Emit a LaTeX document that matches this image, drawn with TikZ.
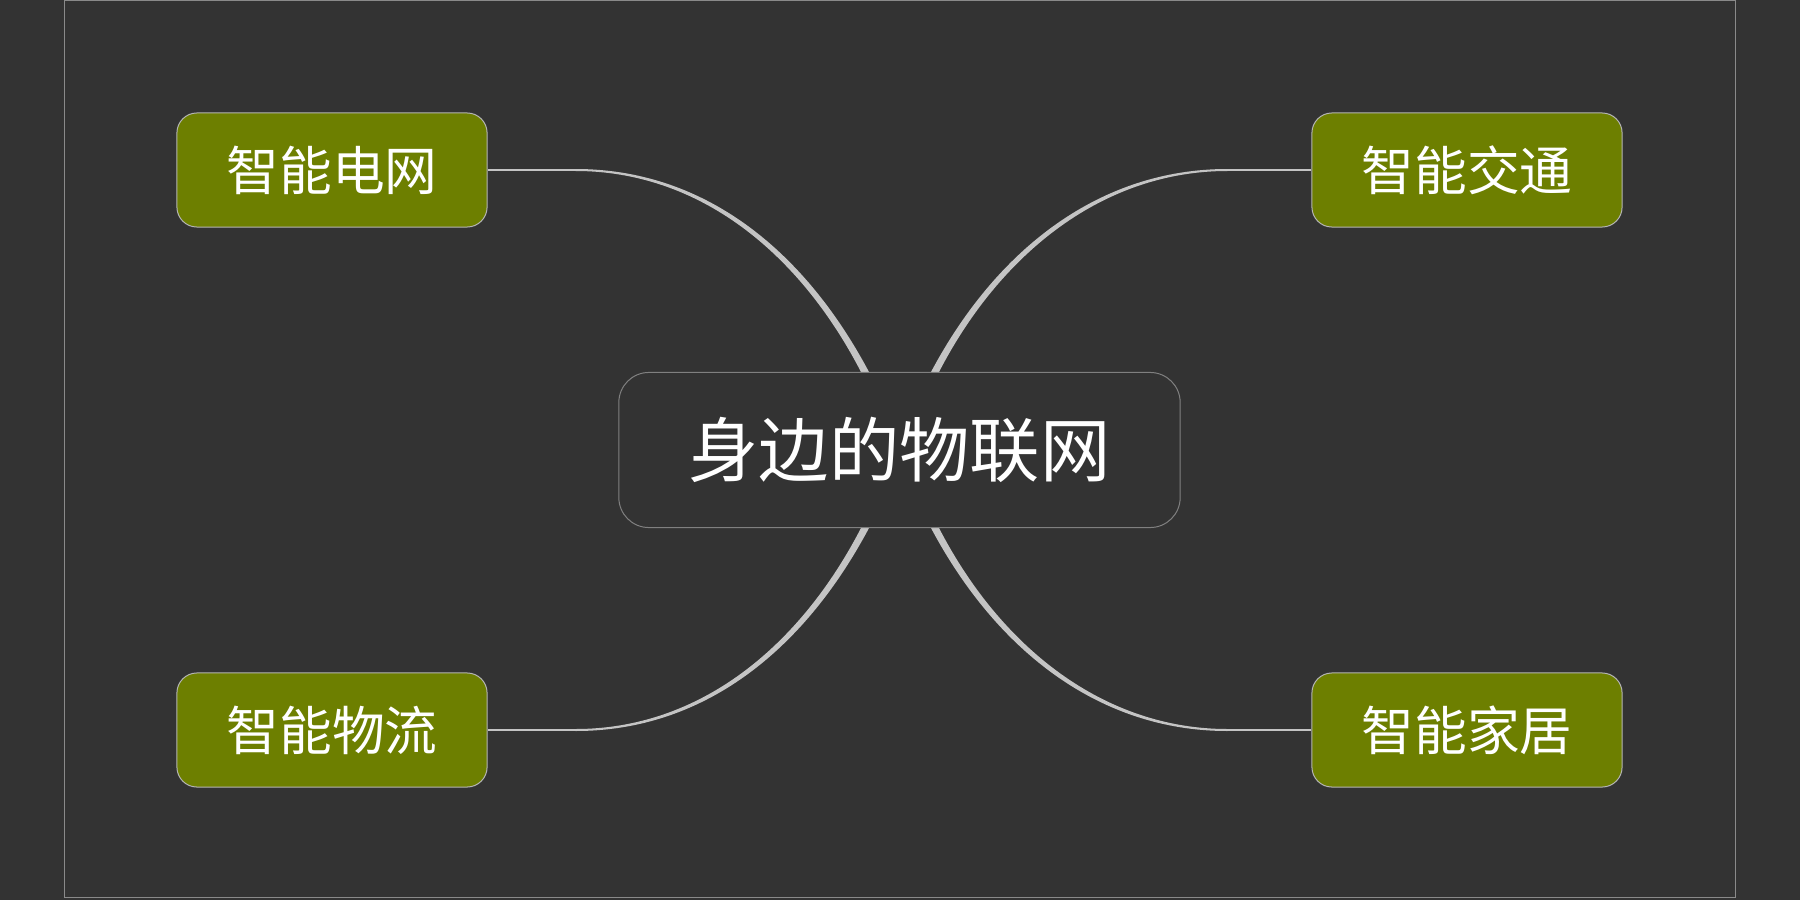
\documentclass[tikz,border=0pt]{standalone}
\usepackage{fontspec}
\newfontfamily\cjk{Noto Sans CJK SC}
\usetikzlibrary{calc}

\definecolor{bgdark}{HTML}{333333}
\definecolor{leafolive}{HTML}{6D7F00}
\definecolor{leafrim}{HTML}{B4B4B4}
\definecolor{hubrim}{HTML}{808080}
\definecolor{branchgray}{HTML}{C4C4C4}
\definecolor{framegray}{HTML}{8A8A8A}

\begin{document}
\begin{tikzpicture}[
    x=0.01cm, y=-0.01cm,
    % Define styles
    leaf/.style={rectangle, draw=leafrim, line width=0.01cm, fill=leafolive, rounded corners=0.2cm,
        minimum width=3.1cm, minimum height=1.14cm, inner sep=0pt, text=white,
        font=\cjk\fontsize{15}{17}\selectfont},
    hub/.style={rectangle, draw=hubrim, line width=0.01cm, fill=bgdark, rounded corners=0.3cm,
        minimum width=5.61cm, minimum height=1.55cm, inner sep=0pt, text=white,
        font=\cjk\fontsize{20}{23}\selectfont},
    stem/.style={draw=branchgray, line width=0.02cm},
    branch/.style={fill=branchgray, draw=none},
    ]

    % Background and frame
    \fill[bgdark] (0,0) rectangle (1800,900);
    \useasboundingbox (0,0) rectangle (1800,900);
    \draw[framegray, line width=0.01cm] (64,1) rectangle (1735,897);

    % Main nodes
    \node[leaf] (grid) at (332,170) {智能电网};
    \node[leaf] (traffic) at (1467,170) {智能交通};
    \node[leaf] (logistics) at (332,730) {智能物流};
    \node[leaf] (home) at (1467,730) {智能家居};

    % Stems leaving the leaves
    \draw[stem] (grid.east) -- ++(88,0) coordinate (g1);
    \draw[stem] (traffic.west) -- ++(-84,0) coordinate (t1);
    \draw[stem] (logistics.east) -- ++(88,0) coordinate (l1);
    \draw[stem] (home.west) -- ++(-84,0) coordinate (h1);

    % Hub anchors for the branches
    \coordinate (hubTL) at (865,372);
    \coordinate (hubTR) at (935,372);
    \coordinate (hubBL) at (865,528);
    \coordinate (hubBR) at (935,528);

    % Tapered branches towards the hub
    \fill[branch] ($(g1)+(0,-1)$) .. controls +(127,0) and +(-66,-124) .. ($(hubTL)+(4,0)$)
        -- ($(hubTL)+(-4,0)$) .. controls +(-62,-120) and +(123,0) .. ($(g1)+(0,1)$) -- cycle;
    \fill[branch] ($(t1)+(0,-1)$) .. controls +(-127,0) and +(66,-124) .. ($(hubTR)+(-4,0)$)
        -- ($(hubTR)+(4,0)$) .. controls +(62,-120) and +(-123,0) .. ($(t1)+(0,1)$) -- cycle;
    \fill[branch] ($(l1)+(0,1)$) .. controls +(127,0) and +(-66,124) .. ($(hubBL)+(4,0)$)
        -- ($(hubBL)+(-4,0)$) .. controls +(-62,120) and +(123,0) .. ($(l1)+(0,-1)$) -- cycle;
    \fill[branch] ($(h1)+(0,1)$) .. controls +(-127,0) and +(66,124) .. ($(hubBR)+(-4,0)$)
        -- ($(hubBR)+(4,0)$) .. controls +(62,120) and +(-123,0) .. ($(h1)+(0,-1)$) -- cycle;

    % Hub node
    \node[hub] (iot) at (899.5,450) {身边的物联网};

\end{tikzpicture}
\end{document}
